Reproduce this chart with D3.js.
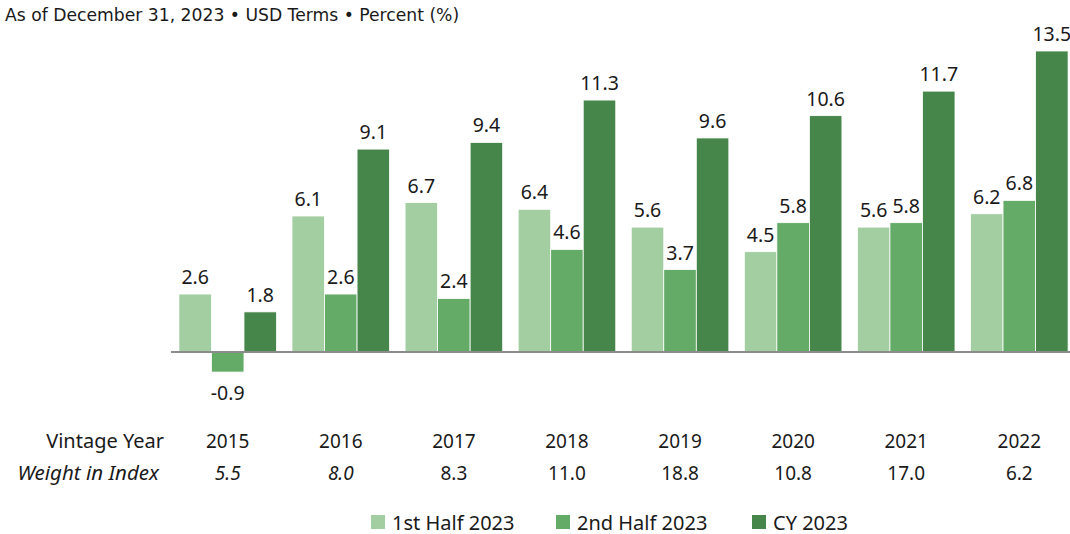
<!DOCTYPE html>
<html>
<head>
<meta charset="utf-8">
<script src="https://cdn.jsdelivr.net/npm/d3@7"></script>
<style>
  body { margin: 0; background: #fff; }
  svg text { font-family: "Noto Sans", sans-serif; fill: #1a1a1a; }
</style>
</head>
<body>
<div class="chart"></div>
<script>
// data
let years = ['2015', '2016', '2017', '2018', '2019', '2020', '2021', '2022']
let weights = ['5.5', '8.0', '8.3', '11.0', '18.8', '10.8', '17.0', '6.2']
let weightItalic = [true, true, false, false, false, false, false, false]
let seriesNames = ['1st Half 2023', '2nd Half 2023', 'CY 2023']
let firstHalf = [2.6, 6.1, 6.7, 6.4, 5.6, 4.5, 5.6, 6.2]
let secondHalf = [-0.9, 2.6, 2.4, 4.6, 3.7, 5.8, 5.8, 6.8]
let calYear = [1.8, 9.1, 9.4, 11.3, 9.6, 10.6, 11.7, 13.5]
let colors = ['#a2cea1', '#63ab66', '#47864a']

let svgWidth = 1070
let svgHeight = 534

let svg = d3.select('.chart')
    .append('svg')
    .attr('width', svgWidth)
    .attr('height', svgHeight)

let series = [firstHalf, secondHalf, calYear]
let rows = years.map((y, i) => ({year: y, values: series.map(s => s[i])}))

// scales
let xScale = d3.scaleBand()
    .domain(years)
    .range([171, 1076])
    .paddingInner(0.137)
    .paddingOuter(0.07)

let xInner = d3.scaleBand()
    .domain(d3.range(3))
    .range([0, xScale.bandwidth()])

let yScale = d3.scaleLinear()
    .domain([0, 13.5])
    .range([352, 51])

// title
svg.append('text')
    .attr('x', 5)
    .attr('y', 21)
    .style('font-family', '"DejaVu Sans", sans-serif')
    .style('font-size', '17.2px')
    .text('As of December 31, 2023 • USD Terms • Percent (%)')

// bars
let groups = svg.selectAll('.group')
    .data(rows)
    .enter()
    .append('g')
    .attr('transform', d => `translate(${xScale(d.year)},0)`)

groups.selectAll('rect')
    .data(d => d.values)
    .enter()
    .append('rect')
    .attr('x', (d, i) => xInner(i))
    .attr('width', xInner.bandwidth())
    .attr('y', d => yScale(Math.max(0, d)))
    .attr('height', d => Math.abs(yScale(d) - yScale(0)))
    .attr('fill', (d, i) => colors[i])
    .attr('stroke', '#fff')
    .attr('stroke-width', 0.8)

// value labels
groups.selectAll('.val')
    .data(d => d.values)
    .enter()
    .append('text')
    .attr('x', (d, i) => xInner(i) + xInner.bandwidth() / 2)
    .attr('y', d => d >= 0 ? yScale(d) - 10 : yScale(d) + 28)
    .attr('text-anchor', 'middle')
    .style('font-size', '19.5px')
    .text(d => d.toFixed(1))

// zero line
svg.append('line')
    .attr('x1', 171)
    .attr('x2', 1070)
    .attr('y1', yScale(0))
    .attr('y2', yScale(0))
    .attr('stroke', '#8c8c8c')
    .attr('stroke-width', 2)

// category axis
let xAxis = d3.axisBottom(xScale).tickSize(0).tickPadding(0)
let axisG = svg.append('g')
    .attr('transform', 'translate(0,434)')
    .call(xAxis)
axisG.select('.domain').remove()
axisG.selectAll('text')
    .style('font-size', '19px')
    .attr('font-family', null)
    .attr('fill', '#1a1a1a')

svg.append('text')
    .attr('x', 164)
    .attr('y', 448)
    .attr('text-anchor', 'end')
    .style('font-size', '20px')
    .text('Vintage Year')

svg.append('text')
    .attr('x', 159)
    .attr('y', 480)
    .attr('text-anchor', 'end')
    .style('font-size', '20.5px')
    .style('font-style', 'italic')
    .text('Weight in Index')

svg.selectAll('.weight')
    .data(weights)
    .enter()
    .append('text')
    .attr('x', (d, i) => xScale(years[i]) + xScale.bandwidth() / 2)
    .attr('y', 480)
    .attr('text-anchor', 'middle')
    .style('font-size', '19px')
    .style('font-style', (d, i) => weightItalic[i] ? 'italic' : 'normal')
    .text(d => d)

// legend
let legendX = [371, 556, 752]
let legend = svg.selectAll('.legend')
    .data(seriesNames)
    .enter()
    .append('g')
    .attr('transform', (d, i) => `translate(${legendX[i]},515)`)

legend.append('rect')
    .attr('width', 14)
    .attr('height', 14)
    .attr('fill', (d, i) => colors[i])

legend.append('text')
    .attr('x', 21)
    .attr('y', 14.5)
    .style('font-size', '20px')
    .text(d => d)
</script>
</body>
</html>
